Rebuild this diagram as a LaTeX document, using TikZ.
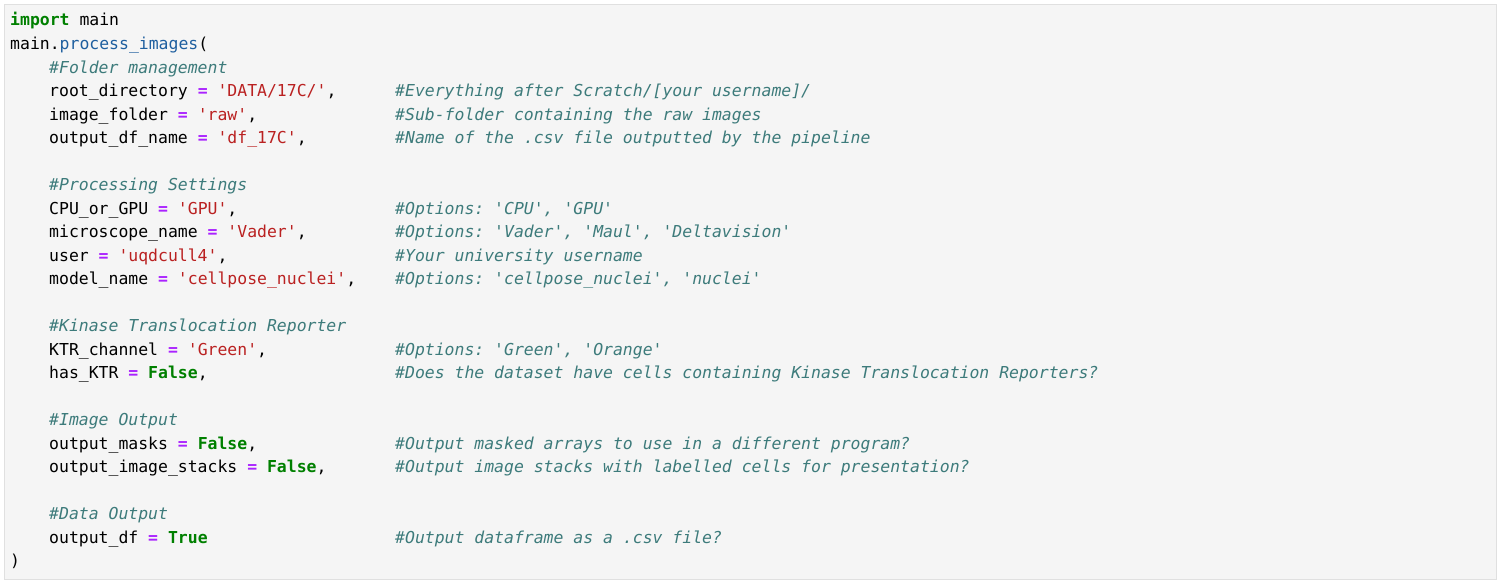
\documentclass[tikz,border=0pt]{standalone}
\usepackage{fontspec}
\setmonofont{DejaVu Sans Mono}
\definecolor{codebg}{HTML}{F5F5F5}
\definecolor{codeframe}{HTML}{E0E0E0}
\definecolor{kwgreen}{HTML}{008000}
\definecolor{eqpurple}{HTML}{AA22FF}
\definecolor{strred}{HTML}{BA2121}
\definecolor{fnblue}{HTML}{1F5F9F}
\definecolor{cmtteal}{HTML}{3D7B7B}
\newcommand{\kw}[1]{{\bfseries\color{kwgreen}#1}}
\newcommand{\eqs}{{\bfseries\color{eqpurple}=}}
\newcommand{\strlit}[1]{{\color{strred}#1}}
\newcommand{\fn}[1]{{\color{fnblue}#1}}
\tikzset{
  codeline/.style={anchor=base west, inner sep=0pt, font=\ttfamily\fontsize{16.45}{19}\selectfont},
  comm/.style={codeline, text=cmtteal, font=\ttfamily\itshape\fontsize{16.45}{19}\selectfont}
}
\begin{document}
\begin{tikzpicture}[x=1pt,y=1pt]
  \useasboundingbox (0,0) rectangle (1500,-583);
  \draw[fill=codebg,draw=codeframe] (4,-4) rectangle (1496,-579);

  \node[codeline] (l1) at (10,-26) {\kw{import} main};
  \node[codeline] (l2) at (10,-49.52) {main.\fn{process\_images}(};

  % folder management
  \node[comm] (l3) at (49,-73.04) {\#Folder management};
  \node[codeline] (l4) at (49,-96.56) {root\_directory \eqs{} \strlit{'DATA/17C/'},};
  \node[comm] (c4) at (395,-96.56) {\#Everything after Scratch/[your username]/};
  \node[codeline] (l5) at (49,-120.08) {image\_folder \eqs{} \strlit{'raw'},};
  \node[comm] (c5) at (395,-120.08) {\#Sub-folder containing the raw images};
  \node[codeline] (l6) at (49,-143.6) {output\_df\_name \eqs{} \strlit{'df\_17C'},};
  \node[comm] (c6) at (395,-143.6) {\#Name of the .csv file outputted by the pipeline};

  % processing settings
  \node[comm] (l8) at (49,-190.64) {\#Processing Settings};
  \node[codeline] (l9) at (49,-214.16) {CPU\_or\_GPU \eqs{} \strlit{'GPU'},};
  \node[comm] (c9) at (395,-214.16) {\#Options: 'CPU', 'GPU'};
  \node[codeline] (l10) at (49,-237.68) {microscope\_name \eqs{} \strlit{'Vader'},};
  \node[comm] (c10) at (395,-237.68) {\#Options: 'Vader', 'Maul', 'Deltavision'};
  \node[codeline] (l11) at (49,-261.2) {user \eqs{} \strlit{'uqdcull4'},};
  \node[comm] (c11) at (395,-261.2) {\#Your university username};
  \node[codeline] (l12) at (49,-284.72) {model\_name \eqs{} \strlit{'cellpose\_nuclei'},};
  \node[comm] (c12) at (395,-284.72) {\#Options: 'cellpose\_nuclei', 'nuclei'};

  % KTR
  \node[comm] (l14) at (49,-331.76) {\#Kinase Translocation Reporter};
  \node[codeline] (l15) at (49,-355.28) {KTR\_channel \eqs{} \strlit{'Green'},};
  \node[comm] (c15) at (395,-355.28) {\#Options: 'Green', 'Orange'};
  \node[codeline] (l16) at (49,-378.8) {has\_KTR \eqs{} \kw{False},};
  \node[comm] (c16) at (395,-378.8) {\#Does the dataset have cells containing Kinase Translocation Reporters?};

  % image output
  \node[comm] (l18) at (49,-425.84) {\#Image Output};
  \node[codeline] (l19) at (49,-449.36) {output\_masks \eqs{} \kw{False},};
  \node[comm] (c19) at (395,-449.36) {\#Output masked arrays to use in a different program?};
  \node[codeline] (l20) at (49,-472.88) {output\_image\_stacks \eqs{} \kw{False},};
  \node[comm] (c20) at (395,-472.88) {\#Output image stacks with labelled cells for presentation?};

  % data output
  \node[comm] (l22) at (49,-519.92) {\#Data Output};
  \node[codeline] (l23) at (49,-543.44) {output\_df \eqs{} \kw{True}};
  \node[comm] (c23) at (395,-543.44) {\#Output dataframe as a .csv file?};
  \node[codeline] (l24) at (10,-566.96) {)};
\end{tikzpicture}
\end{document}
